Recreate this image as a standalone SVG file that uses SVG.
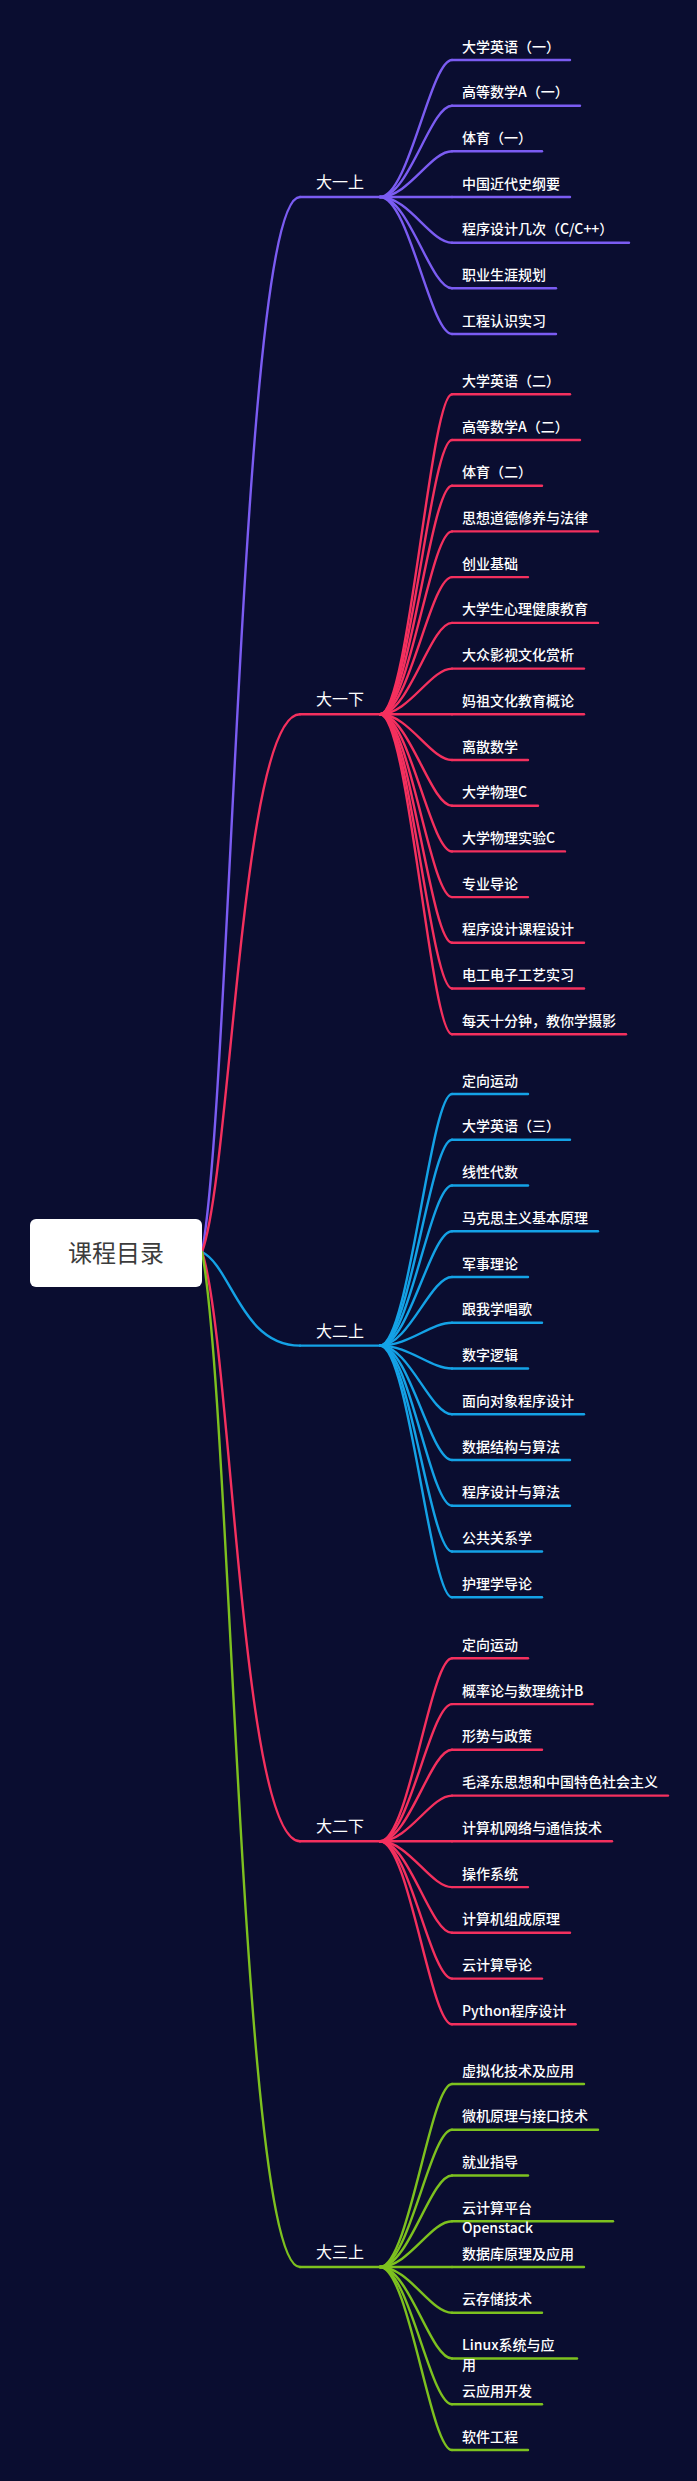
<svg xmlns="http://www.w3.org/2000/svg" width="697" height="2481" viewBox="0 0 697 2481">
<style>
.l{fill:none;stroke-width:2.4;stroke-linecap:round}
.p{stroke:#7B5CF2}.r{stroke:#F4305E}.b{stroke:#14A2E6}.g{stroke:#7DC11F}
text{font-family:"Noto Sans CJK SC","Microsoft YaHei",sans-serif;fill:#FFFFFF}
.t{font-size:14px;font-weight:500}
.bt{font-size:16px;text-anchor:middle}
.rt{font-size:24px;text-anchor:middle;fill:#3C3C3C}
</style>
<rect width="697" height="2481" fill="#0A0D30"/>
<g id="connectors">
<path class="l p" d="M202 1252 C231.4 1093.6 241.2 197 300 197"/>
<path class="l r" d="M202 1252 C231.4 1171.3 241.2 714.3 300 714.3"/>
<path class="l b" d="M202 1252 C231.4 1266.1 241.2 1345.6 300 1345.6"/>
<path class="l r" d="M202 1252 C231.4 1340.4 241.2 1841.3 300 1841.3"/>
<path class="l g" d="M202 1252 C231.4 1404.3 241.2 2267 300 2267"/>
<g class="l p">
<path d="M380 197 C408.8 197 430.4 60 452 60"/>
<path d="M380 197 C408.8 197 430.4 105.7 452 105.7"/>
<path d="M380 197 C408.8 197 430.4 151.3 452 151.3"/>
<path d="M380 197 H452"/>
<path d="M380 197 C408.8 197 430.4 242.7 452 242.7"/>
<path d="M380 197 C408.8 197 430.4 288.3 452 288.3"/>
<path d="M380 197 C408.8 197 430.4 334 452 334"/>
</g>
<g class="l r">
<path d="M380 714.3 C408.8 714.3 430.4 394.3 452 394.3"/>
<path d="M380 714.3 C408.8 714.3 430.4 440 452 440"/>
<path d="M380 714.3 C408.8 714.3 430.4 485.7 452 485.7"/>
<path d="M380 714.3 C408.8 714.3 430.4 531.4 452 531.4"/>
<path d="M380 714.3 C408.8 714.3 430.4 577.1 452 577.1"/>
<path d="M380 714.3 C408.8 714.3 430.4 622.9 452 622.9"/>
<path d="M380 714.3 C408.8 714.3 430.4 668.6 452 668.6"/>
<path d="M380 714.3 H452"/>
<path d="M380 714.3 C408.8 714.3 430.4 760 452 760"/>
<path d="M380 714.3 C408.8 714.3 430.4 805.7 452 805.7"/>
<path d="M380 714.3 C408.8 714.3 430.4 851.4 452 851.4"/>
<path d="M380 714.3 C408.8 714.3 430.4 897.1 452 897.1"/>
<path d="M380 714.3 C408.8 714.3 430.4 942.8 452 942.8"/>
<path d="M380 714.3 C408.8 714.3 430.4 988.5 452 988.5"/>
<path d="M380 714.3 C408.8 714.3 430.4 1034.2 452 1034.2"/>
</g>
<g class="l b">
<path d="M380 1345.6 C408.8 1345.6 430.4 1094 452 1094"/>
<path d="M380 1345.6 C408.8 1345.6 430.4 1139.8 452 1139.8"/>
<path d="M380 1345.6 C408.8 1345.6 430.4 1185.5 452 1185.5"/>
<path d="M380 1345.6 C408.8 1345.6 430.4 1231.3 452 1231.3"/>
<path d="M380 1345.6 C408.8 1345.6 430.4 1277 452 1277"/>
<path d="M380 1345.6 C408.8 1345.6 430.4 1322.8 452 1322.8"/>
<path d="M380 1345.6 C408.8 1345.6 430.4 1368.5 452 1368.5"/>
<path d="M380 1345.6 C408.8 1345.6 430.4 1414.3 452 1414.3"/>
<path d="M380 1345.6 C408.8 1345.6 430.4 1460 452 1460"/>
<path d="M380 1345.6 C408.8 1345.6 430.4 1505.8 452 1505.8"/>
<path d="M380 1345.6 C408.8 1345.6 430.4 1551.5 452 1551.5"/>
<path d="M380 1345.6 C408.8 1345.6 430.4 1597.3 452 1597.3"/>
</g>
<g class="l r">
<path d="M380 1841.3 C408.8 1841.3 430.4 1658.3 452 1658.3"/>
<path d="M380 1841.3 C408.8 1841.3 430.4 1704.1 452 1704.1"/>
<path d="M380 1841.3 C408.8 1841.3 430.4 1749.8 452 1749.8"/>
<path d="M380 1841.3 C408.8 1841.3 430.4 1795.6 452 1795.6"/>
<path d="M380 1841.3 H452"/>
<path d="M380 1841.3 C408.8 1841.3 430.4 1887.1 452 1887.1"/>
<path d="M380 1841.3 C408.8 1841.3 430.4 1932.8 452 1932.8"/>
<path d="M380 1841.3 C408.8 1841.3 430.4 1978.6 452 1978.6"/>
<path d="M380 1841.3 C408.8 1841.3 430.4 2024.3 452 2024.3"/>
</g>
<g class="l g">
<path d="M380 2267 C408.8 2267 430.4 2084 452 2084"/>
<path d="M380 2267 C408.8 2267 430.4 2129.8 452 2129.8"/>
<path d="M380 2267 C408.8 2267 430.4 2175.5 452 2175.5"/>
<path d="M380 2267 C408.8 2267 430.4 2221.3 452 2221.3"/>
<path d="M380 2267 H452"/>
<path d="M380 2267 C408.8 2267 430.4 2312.8 452 2312.8"/>
<path d="M380 2267 C408.8 2267 430.4 2358.5 452 2358.5"/>
<path d="M380 2267 C408.8 2267 430.4 2404.3 452 2404.3"/>
<path d="M380 2267 C408.8 2267 430.4 2450 452 2450"/>
</g>
</g>
<g id="root">
<rect x="30" y="1219" width="172" height="68" rx="6" fill="#FFFFFF"/>
<text class="rt" x="116" y="1262">课程目录</text>
</g>
<g id="b1"><path class="l p" d="M300 197 H380"/><text class="bt" x="340" y="188">大一上</text></g>
<g id="b2"><path class="l r" d="M300 714.3 H380"/><text class="bt" x="340" y="705.3">大一下</text></g>
<g id="b3"><path class="l b" d="M300 1345.6 H380"/><text class="bt" x="340" y="1336.6">大二上</text></g>
<g id="b4"><path class="l r" d="M300 1841.3 H380"/><text class="bt" x="340" y="1832.3">大二下</text></g>
<g id="b5"><path class="l g" d="M300 2267 H380"/><text class="bt" x="340" y="2258">大三上</text></g>
<g id="n1-1"><path class="l p" d="M452 60 H570"/><text class="t" x="462" y="51.5">大学英语（一）</text></g>
<g id="n1-2"><path class="l p" d="M452 105.7 H580"/><text class="t" x="462" y="97.2">高等数学A（一）</text></g>
<g id="n1-3"><path class="l p" d="M452 151.3 H542"/><text class="t" x="462" y="142.8">体育（一）</text></g>
<g id="n1-4"><path class="l p" d="M452 197 H570"/><text class="t" x="462" y="188.5">中国近代史纲要</text></g>
<g id="n1-5"><path class="l p" d="M452 242.7 H629"/><text class="t" x="462" y="234.2">程序设计几次（C/C++）</text></g>
<g id="n1-6"><path class="l p" d="M452 288.3 H556"/><text class="t" x="462" y="279.8">职业生涯规划</text></g>
<g id="n1-7"><path class="l p" d="M452 334 H556"/><text class="t" x="462" y="325.5">工程认识实习</text></g>
<g id="n2-1"><path class="l r" d="M452 394.3 H570"/><text class="t" x="462" y="385.8">大学英语（二）</text></g>
<g id="n2-2"><path class="l r" d="M452 440 H580"/><text class="t" x="462" y="431.5">高等数学A（二）</text></g>
<g id="n2-3"><path class="l r" d="M452 485.7 H542"/><text class="t" x="462" y="477.2">体育（二）</text></g>
<g id="n2-4"><path class="l r" d="M452 531.4 H598"/><text class="t" x="462" y="522.9">思想道德修养与法律</text></g>
<g id="n2-5"><path class="l r" d="M452 577.1 H528"/><text class="t" x="462" y="568.6">创业基础</text></g>
<g id="n2-6"><path class="l r" d="M452 622.9 H598"/><text class="t" x="462" y="614.4">大学生心理健康教育</text></g>
<g id="n2-7"><path class="l r" d="M452 668.6 H584"/><text class="t" x="462" y="660.1">大众影视文化赏析</text></g>
<g id="n2-8"><path class="l r" d="M452 714.3 H584"/><text class="t" x="462" y="705.8">妈祖文化教育概论</text></g>
<g id="n2-9"><path class="l r" d="M452 760 H528"/><text class="t" x="462" y="751.5">离散数学</text></g>
<g id="n2-10"><path class="l r" d="M452 805.7 H538"/><text class="t" x="462" y="797.2">大学物理C</text></g>
<g id="n2-11"><path class="l r" d="M452 851.4 H565"/><text class="t" x="462" y="842.9">大学物理实验C</text></g>
<g id="n2-12"><path class="l r" d="M452 897.1 H528"/><text class="t" x="462" y="888.6">专业导论</text></g>
<g id="n2-13"><path class="l r" d="M452 942.8 H584"/><text class="t" x="462" y="934.3">程序设计课程设计</text></g>
<g id="n2-14"><path class="l r" d="M452 988.5 H584"/><text class="t" x="462" y="980">电工电子工艺实习</text></g>
<g id="n2-15"><path class="l r" d="M452 1034.2 H626"/><text class="t" x="462" y="1025.7">每天十分钟，教你学摄影</text></g>
<g id="n3-1"><path class="l b" d="M452 1094 H528"/><text class="t" x="462" y="1085.5">定向运动</text></g>
<g id="n3-2"><path class="l b" d="M452 1139.8 H570"/><text class="t" x="462" y="1131.3">大学英语（三）</text></g>
<g id="n3-3"><path class="l b" d="M452 1185.5 H528"/><text class="t" x="462" y="1177">线性代数</text></g>
<g id="n3-4"><path class="l b" d="M452 1231.3 H598"/><text class="t" x="462" y="1222.8">马克思主义基本原理</text></g>
<g id="n3-5"><path class="l b" d="M452 1277 H528"/><text class="t" x="462" y="1268.5">军事理论</text></g>
<g id="n3-6"><path class="l b" d="M452 1322.8 H542"/><text class="t" x="462" y="1314.3">跟我学唱歌</text></g>
<g id="n3-7"><path class="l b" d="M452 1368.5 H528"/><text class="t" x="462" y="1360">数字逻辑</text></g>
<g id="n3-8"><path class="l b" d="M452 1414.3 H584"/><text class="t" x="462" y="1405.8">面向对象程序设计</text></g>
<g id="n3-9"><path class="l b" d="M452 1460 H570"/><text class="t" x="462" y="1451.5">数据结构与算法</text></g>
<g id="n3-10"><path class="l b" d="M452 1505.8 H570"/><text class="t" x="462" y="1497.3">程序设计与算法</text></g>
<g id="n3-11"><path class="l b" d="M452 1551.5 H542"/><text class="t" x="462" y="1543">公共关系学</text></g>
<g id="n3-12"><path class="l b" d="M452 1597.3 H542"/><text class="t" x="462" y="1588.8">护理学导论</text></g>
<g id="n4-1"><path class="l r" d="M452 1658.3 H528"/><text class="t" x="462" y="1649.8">定向运动</text></g>
<g id="n4-2"><path class="l r" d="M452 1704.1 H592.7"/><text class="t" x="462" y="1695.6">概率论与数理统计B</text></g>
<g id="n4-3"><path class="l r" d="M452 1749.8 H542"/><text class="t" x="462" y="1741.3">形势与政策</text></g>
<g id="n4-4"><path class="l r" d="M452 1795.6 H668"/><text class="t" x="462" y="1787.1">毛泽东思想和中国特色社会主义</text></g>
<g id="n4-5"><path class="l r" d="M452 1841.3 H612"/><text class="t" x="462" y="1832.8">计算机网络与通信技术</text></g>
<g id="n4-6"><path class="l r" d="M452 1887.1 H528"/><text class="t" x="462" y="1878.6">操作系统</text></g>
<g id="n4-7"><path class="l r" d="M452 1932.8 H570"/><text class="t" x="462" y="1924.3">计算机组成原理</text></g>
<g id="n4-8"><path class="l r" d="M452 1978.6 H542"/><text class="t" x="462" y="1970.1">云计算导论</text></g>
<g id="n4-9"><path class="l r" d="M452 2024.3 H575.7"/><text class="t" x="462" y="2015.8">Python程序设计</text></g>
<g id="n5-1"><path class="l g" d="M452 2084 H584"/><text class="t" x="462" y="2075.5">虚拟化技术及应用</text></g>
<g id="n5-2"><path class="l g" d="M452 2129.8 H598"/><text class="t" x="462" y="2121.3">微机原理与接口技术</text></g>
<g id="n5-3"><path class="l g" d="M452 2175.5 H528"/><text class="t" x="462" y="2167">就业指导</text></g>
<g id="n5-4"><path class="l g" d="M452 2221.3 H613"/><text class="t" x="462" y="2213"><tspan x="462">云计算平台</tspan><tspan x="462" y="2233">Openstack</tspan></text></g>
<g id="n5-5"><path class="l g" d="M452 2267 H584"/><text class="t" x="462" y="2258.5">数据库原理及应用</text></g>
<g id="n5-6"><path class="l g" d="M452 2312.8 H542"/><text class="t" x="462" y="2304.3">云存储技术</text></g>
<g id="n5-7"><path class="l g" d="M452 2358.5 H577"/><text class="t" x="462" y="2350"><tspan x="462">Linux系统与应</tspan><tspan x="462" y="2370">用</tspan></text></g>
<g id="n5-8"><path class="l g" d="M452 2404.3 H542"/><text class="t" x="462" y="2395.8">云应用开发</text></g>
<g id="n5-9"><path class="l g" d="M452 2450 H528"/><text class="t" x="462" y="2441.5">软件工程</text></g>
</svg>
